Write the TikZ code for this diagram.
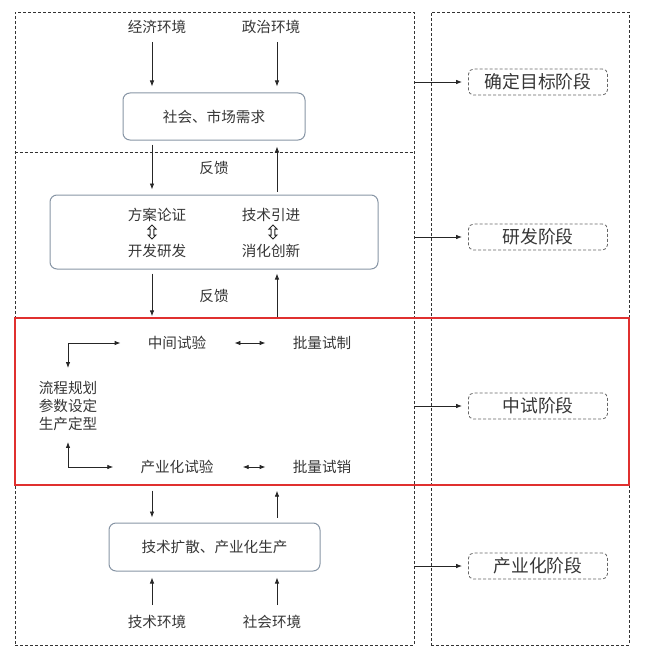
\documentclass[tikz,border=0pt]{standalone}
\usepackage{fontspec}
\setmainfont{Noto Sans CJK SC}
\usetikzlibrary{arrows.meta,shapes.arrows}
\definecolor{txtgray}{HTML}{363636}
\definecolor{boxblue}{HTML}{8795A5}
\definecolor{framered}{HTML}{E0302F}
\newcommand{\tip}{Latex[length=6pt,width=4.5pt]}

\begin{document}
\begin{tikzpicture}[x=1pt,y=-1pt,
    word/.style={font=\fontsize{14.6}{18}\selectfont, text=txtgray, inner sep=2pt},
    roundbox/.style={draw=boxblue, line width=1pt, rounded corners=7pt},
    stagebox/.style={draw=black!60, dash pattern=on 3pt off 2pt, line width=0.8pt, rounded corners=5pt,
      minimum width=139pt, minimum height=26pt, font=\fontsize{17.8}{20}\selectfont, text=txtgray},
    frame/.style={draw=black!80, dash pattern=on 3pt off 2pt, line width=0.7pt, inner sep=0pt},
    arr/.style={-{\tip}, line width=0.8pt, black!85},
    twoway/.style={{\tip}-{\tip}, line width=0.8pt, black!85},
    dblarr/.style={draw=black!85, line width=1pt, double arrow, rotate=90, minimum height=14pt,
      minimum width=8pt, inner sep=1.2pt, double arrow head extend=2pt}
  ]

    \useasboundingbox (0,0) rectangle (647,658);

    % draw dashed frames
    \node[frame, minimum width=399pt, minimum height=633pt] (leftframe) at (214.5,328.5) {};
    \node[frame, minimum width=198pt, minimum height=633pt] (rightframe) at (530,328.5) {};
    \draw[frame] (leftframe.west |- 0,152) -- (leftframe.east |- 0,152);

    % draw red frame
    \node[draw=framered, line width=1.3pt, minimum width=614pt, minimum height=167pt] (pilot) at (322,401.5) {};

    % columns of the vertical arrows
    \coordinate (colL) at (152,0);
    \coordinate (colR) at (277,0);

    % draw nodes
    \node[word] (econ) at (157,27) {经济环境};
    \node[word] (polit) at (271,27) {政治环境};
    \node[roundbox, word, minimum width=182pt, minimum height=47pt] (demand) at (214,116.5) {社会、市场需求};
    \node[word] (fb1) at (214,168) {反馈};
    \node[roundbox, minimum width=328pt, minimum height=74pt] (dev) at (214,232) {};
    \node[word] (plan) at (157,215) {方案论证};
    \node[word] (rnd) at (157,251) {开发研发};
    \node[word] (intro) at (271,215) {技术引进};
    \node[word] (innov) at (271,251) {消化创新};
    \node[dblarr] (swapL) at (152,232) {};
    \node[dblarr] (swapR) at (273,232) {};
    \node[word] (fb2) at (214,296) {反馈};
    \node[word] (mid) at (177,343) {中间试验};
    \node[word] (batchA) at (322,343) {批量试制};
    \node[word, align=center] (flow) at (68,406) {流程规划\\参数设定\\生产定型};
    \node[word] (ind) at (177,467) {产业化试验};
    \node[word] (batchB) at (322,467) {批量试销};
    \node[roundbox, word, minimum width=211pt, minimum height=48pt] (prod) at (214.5,547) {技术扩散、产业化生产};
    \node[word] (tech) at (157,622) {技术环境};
    \node[word] (soc) at (272,622) {社会环境};

    % draw stage nodes
    \node[stagebox] (stage1) at (538,82) {确定目标阶段};
    \node[stagebox] (stage2) at (538,237) {研发阶段};
    \node[stagebox] (stage3) at (538,406) {中试阶段};
    \node[stagebox] (stage4) at (538,566) {产业化阶段};

    % draw vertical arrows
    \draw[arr, shorten <=6pt, shorten >=6pt] (econ.south -| colL) -- (demand.north -| colL);
    \draw[arr, shorten <=6pt, shorten >=6pt] (polit.south -| colR) -- (demand.north -| colR);
    \draw[arr, shorten <=4pt, shorten >=5pt] (demand.south -| colL) -- (dev.north -| colL);
    \draw[arr, shorten <=3pt, shorten >=6pt] (dev.north -| colR) -- (demand.south -| colR);
    \draw[arr, shorten <=4pt, shorten >=1pt] (dev.south -| colL) -- (pilot.north -| colL);
    \draw[arr, shorten >=4pt] (pilot.north -| colR) -- (dev.south -| colR);
    \draw[arr, shorten <=5pt, shorten >=5pt] (pilot.south -| colL) -- (prod.north -| colL);
    \draw[arr, shorten <=5pt, shorten >=5pt] (prod.north -| colR) -- (pilot.south -| colR);
    \draw[arr, shorten <=8pt, shorten >=6pt] (tech.north -| colL) -- (prod.south -| colL);
    \draw[arr, shorten <=8pt, shorten >=6pt] (soc.north -| colR) -- (prod.south -| colR);

    % draw arrows inside the red frame
    \draw[twoway, shorten <=11pt, shorten >=25pt] (flow.north) |- (mid.west);
    \draw[twoway, shorten <=9pt, shorten >=25pt] (flow.south) |- (ind.west);
    \draw[twoway, shorten <=26pt, shorten >=25pt] (mid.east) -- (batchA.west);
    \draw[twoway, shorten <=27pt, shorten >=25pt] (ind.east) -- (batchB.west);

    % draw arrows to the stages
    \foreach \s in {stage1,stage2,stage3,stage4}
      \draw[arr, shorten >=6pt] (\s.west -| leftframe.east) -- (\s.west);

\end{tikzpicture}
\end{document}
